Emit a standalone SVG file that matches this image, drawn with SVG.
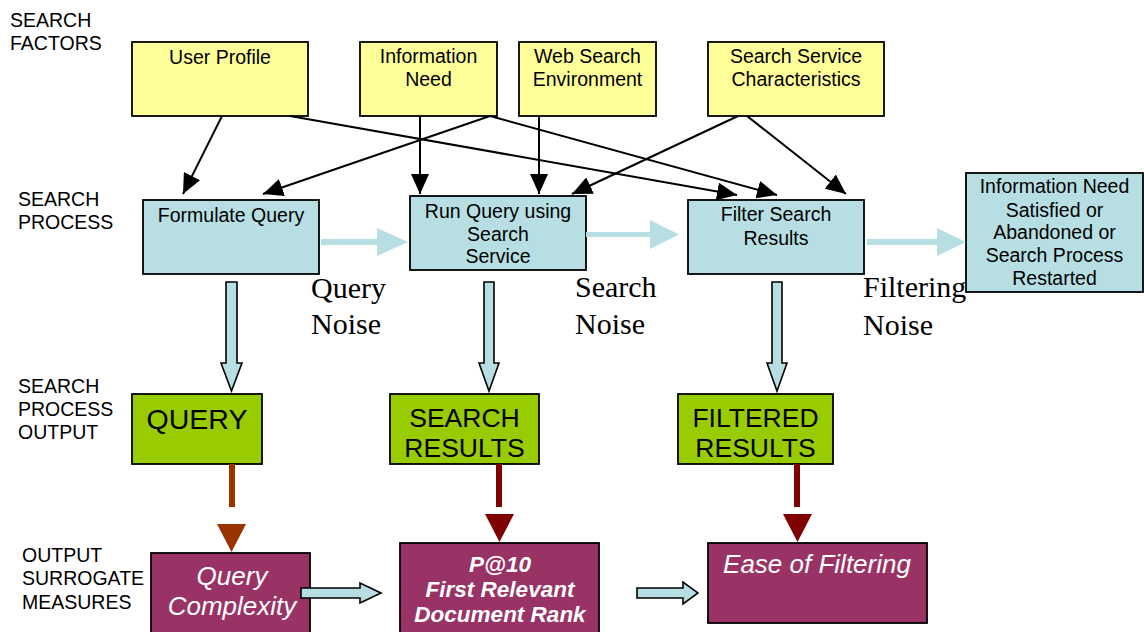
<svg xmlns="http://www.w3.org/2000/svg" width="1144" height="632" viewBox="0 0 1144 632">
<style>
.lbl{font-family:"Liberation Sans",Arial,sans-serif;font-size:19.5px;fill:#000}
.bt{font-family:"Liberation Sans",Arial,sans-serif;font-size:19.5px;fill:#000;text-anchor:middle}
.gt{font-family:"Liberation Sans",Arial,sans-serif;font-size:26.5px;fill:#000;text-anchor:middle}
.pt{font-family:"Liberation Sans",Arial,sans-serif;font-size:26px;fill:#fff;font-style:italic;text-anchor:middle}
.pb{font-family:"Liberation Sans",Arial,sans-serif;font-size:22.5px;fill:#fff;font-style:italic;font-weight:bold;text-anchor:middle}
.noise{font-family:"Liberation Serif","Times New Roman",serif;font-size:30px;fill:#000}
.y{fill:#ffff99;stroke:#000;stroke-width:1.8}
.b{fill:#b7dfe3;stroke:#000;stroke-width:1.8}
.g{fill:#99cc00;stroke:#000;stroke-width:1.8}
.p{fill:#993366;stroke:#000;stroke-width:1.8}
.ln{stroke:#000;stroke-width:2;fill:none;marker-end:url(#ah)}
.blk{fill:#b7dfe3;stroke:#000;stroke-width:1.6}
.flat{fill:#b7dfe3;stroke:none}
</style>
<defs>
<marker id="ah" markerUnits="userSpaceOnUse" markerWidth="21" markerHeight="18" refX="20" refY="9" orient="auto">
<path d="M0,0 L20,9 L0,18 z" fill="#000"/>
</marker>
</defs>
<rect width="1144" height="632" fill="#fff"/>

<g id="row-labels">
<text class="lbl" x="10" y="27">SEARCH</text>
<text class="lbl" x="10" y="50">FACTORS</text>
<text class="lbl" x="18" y="206">SEARCH</text>
<text class="lbl" x="18" y="229">PROCESS</text>
<text class="lbl" x="18" y="393">SEARCH</text>
<text class="lbl" x="18" y="416">PROCESS</text>
<text class="lbl" x="18" y="439">OUTPUT</text>
<text class="lbl" x="22" y="562">OUTPUT</text>
<text class="lbl" x="22" y="585">SURROGATE</text>
<text class="lbl" x="22" y="609">MEASURES</text>
</g>

<g id="user-profile"><rect class="y" x="132" y="42" width="176" height="74"/><text class="bt" x="220" y="64">User Profile</text></g>
<g id="information-need"><rect class="y" x="360" y="42" width="137" height="74"/><text class="bt" x="428.5" y="63">Information</text><text class="bt" x="428.5" y="86">Need</text></g>
<g id="web-search-environment"><rect class="y" x="519" y="42" width="137" height="74"/><text class="bt" x="587.5" y="63">Web Search</text><text class="bt" x="587.5" y="86">Environment</text></g>
<g id="search-service-characteristics"><rect class="y" x="708" y="42" width="176" height="74"/><text class="bt" x="796" y="63">Search Service</text><text class="bt" x="796" y="86">Characteristics</text></g>

<g id="formulate-query"><rect class="b" x="143" y="200" width="176" height="74"/><text class="bt" x="231" y="222">Formulate Query</text></g>
<g id="run-query"><rect class="b" x="410" y="196" width="176" height="74"/><text class="bt" x="498" y="218">Run Query using</text><text class="bt" x="498" y="241">Search</text><text class="bt" x="498" y="263">Service</text></g>
<g id="filter-search-results"><rect class="b" x="688" y="200" width="176" height="74"/><text class="bt" x="776" y="221">Filter Search</text><text class="bt" x="776" y="245">Results</text></g>
<g id="information-need-satisfied"><rect class="b" x="966" y="173" width="177" height="119"/><text class="bt" x="1054.5" y="193">Information Need</text><text class="bt" x="1054.5" y="217">Satisfied or</text><text class="bt" x="1054.5" y="239">Abandoned or</text><text class="bt" x="1054.5" y="262">Search Process</text><text class="bt" x="1054.5" y="285">Restarted</text></g>

<g id="query-output"><rect class="g" x="132" y="394" width="130" height="70"/><text class="gt" x="197" y="429" style="font-size:28.5px">QUERY</text></g>
<g id="search-results-output"><rect class="g" x="390" y="394" width="149" height="70"/><text class="gt" x="464.5" y="427">SEARCH</text><text class="gt" x="464.5" y="457">RESULTS</text></g>
<g id="filtered-results-output"><rect class="g" x="678" y="394" width="155" height="70"/><text class="gt" x="755.5" y="427">FILTERED</text><text class="gt" x="755.5" y="457">RESULTS</text></g>

<g id="query-complexity"><rect class="p" x="151" y="553" width="159" height="90"/><text class="pt" x="232" y="585">Query</text><text class="pt" x="232" y="615">Complexity</text></g>
<g id="p-at-10"><rect class="p" x="400" y="543" width="199" height="100"/><text class="pb" x="500" y="572">P@10</text><text class="pb" x="500" y="597">First Relevant</text><text class="pb" x="500" y="622">Document Rank</text></g>
<g id="ease-of-filtering"><rect class="p" x="708" y="543" width="219" height="80"/><text class="pt" x="817" y="573">Ease of Filtering</text></g>

<g id="connectors">
<line class="ln" x1="222" y1="116" x2="183" y2="194"/>
<line class="ln" x1="290" y1="116" x2="737" y2="195"/>
<line class="ln" x1="490" y1="116" x2="263" y2="194"/>
<line class="ln" x1="490" y1="116" x2="777" y2="195"/>
<line class="ln" x1="420" y1="116" x2="420" y2="194"/>
<line class="ln" x1="539" y1="116" x2="539" y2="194"/>
<line class="ln" x1="738" y1="116" x2="572" y2="194"/>
<line class="ln" x1="747" y1="116" x2="846" y2="194"/>

<polygon class="flat" points="321,239 377,239 377,228 408,242 377,256 377,245 321,245"/>
<polygon class="flat" points="586,232 650,232 650,220 679,234.5 650,249 650,237 586,237"/>
<polygon class="flat" points="867,239 937,239 937,228 966,242 937,256 937,245 867,245"/>

<polygon class="blk" points="226,282 237,282 237,363 242,363 231.5,391 221,363 226,363"/>
<polygon class="blk" points="484,282 494,282 494,363 499,363 489,391 479,363 484,363"/>
<polygon class="blk" points="772,282 782,282 782,363 787,363 777,391 767,363 772,363"/>

<rect x="229" y="464" width="6" height="43" fill="#993300"/>
<polygon points="217,524 246,524 231.5,552" fill="#993300"/>
<rect x="496" y="464" width="6" height="43" fill="#800000"/>
<polygon points="485,514 514,514 499.5,542" fill="#800000"/>
<rect x="794" y="464" width="6" height="43" fill="#800000"/>
<polygon points="783,514 812,514 797.5,542" fill="#800000"/>

<polygon class="blk" points="301,588 360,588 360,583 381,593 360,603 360,598 301,598"/>
<polygon class="blk" points="637,588 683,588 683,582 698,593 683,604 683,598 637,598"/>
</g>

<g id="noise-labels">
<text class="noise" x="311" y="298">Query</text>
<text class="noise" x="311" y="334">Noise</text>
<text class="noise" x="575" y="297">Search</text>
<text class="noise" x="575" y="334">Noise</text>
<text class="noise" x="863" y="297">Filtering</text>
<text class="noise" x="863" y="335">Noise</text>
</g>
</svg>
